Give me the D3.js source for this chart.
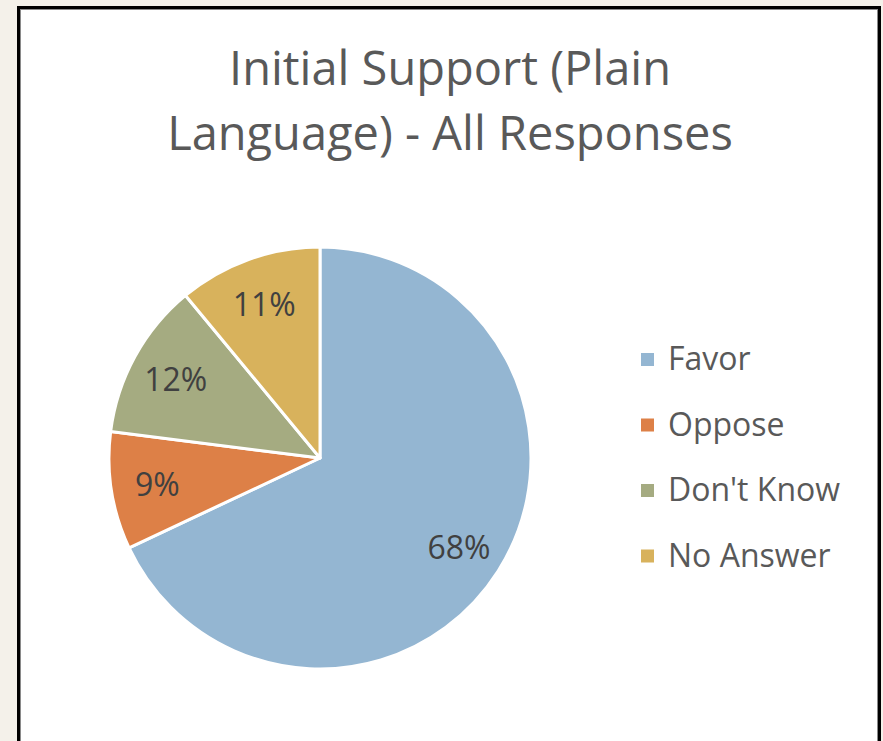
<!DOCTYPE html>
<html>
<head>
<meta charset="utf-8">
<script src="https://cdn.jsdelivr.net/npm/d3@7"></script>
<style>
  html, body { margin: 0; padding: 0; background: #f4f1ea; }
  svg { display: block; }
</style>
</head>
<body>
<svg id="chart" width="883" height="741"></svg>
<script>
// Survey responses, share of all answers (%)
const categories = ["Favor", "Oppose", "Don't Know", "No Answer"];
const values = [68, 9, 12, 11];
const colors = ["#94B6D2", "#DD8047", "#A5AB81", "#D8B25C"];
const titleLines = ["Initial Support (Plain", "Language) - All Responses"];

const svg = d3.select("#chart");
const font = "'Open Sans', 'Noto Sans', sans-serif";

// Chart panel with dark frame
svg.append("rect")
  .attr("x", 18.5).attr("y", 7.5)
  .attr("width", 861).attr("height", 760)
  .attr("fill", "#ffffff")
  .attr("stroke", "#000000")
  .attr("stroke-width", 3);
svg.append("rect")
  .attr("x", 20.5).attr("y", 9.5)
  .attr("width", 857).attr("height", 760)
  .attr("fill", "none")
  .attr("stroke", "#8a8a8a")
  .attr("stroke-width", 1);

// Title
svg.append("g").selectAll("text")
  .data(titleLines)
  .join("text")
  .attr("x", 450)
  .attr("y", (d, i) => 85 + i * 65)
  .attr("text-anchor", "middle")
  .attr("font-family", font)
  .attr("font-size", 47)
  .attr("fill", "#595959")
  .text(d => d);

// Pie
const cx = 320, cy = 458, r = 211;
const data = categories.map((c, i) => ({ name: c, value: values[i], color: colors[i] }));
const pie = d3.pie().value(d => d.value).sort(null);
const arcs = pie(data);
const arc = d3.arc().innerRadius(0).outerRadius(r);
const labelArc = d3.arc().innerRadius(r * 0.78).outerRadius(r * 0.78);

const g = svg.append("g").attr("transform", `translate(${cx},${cy})`);
g.selectAll("path")
  .data(arcs)
  .join("path")
  .attr("d", arc)
  .attr("fill", d => d.data.color)
  .attr("stroke", "#ffffff")
  .attr("stroke-width", 3)
  .attr("stroke-linejoin", "round");

g.selectAll("text")
  .data(arcs)
  .join("text")
  .attr("transform", d => `translate(${labelArc.centroid(d)})`)
  .attr("text-anchor", "middle")
  .attr("dominant-baseline", "central")
  .attr("font-family", font)
  .attr("font-size", 32)
  .attr("fill", "#404040")
  .text(d => d.data.value + "%");

// Legend
const legend = svg.append("g").attr("transform", "translate(641,360)");
const row = legend.selectAll("g")
  .data(data)
  .join("g")
  .attr("transform", (d, i) => `translate(0,${i * 65.5})`);
row.append("rect")
  .attr("x", 0).attr("y", -7)
  .attr("width", 13).attr("height", 13)
  .attr("fill", d => d.color);
row.append("text")
  .attr("x", 27).attr("y", 10)
  .attr("font-family", font)
  .attr("font-size", 32)
  .attr("fill", "#595959")
  .text(d => d.name);
</script>
</body>
</html>
